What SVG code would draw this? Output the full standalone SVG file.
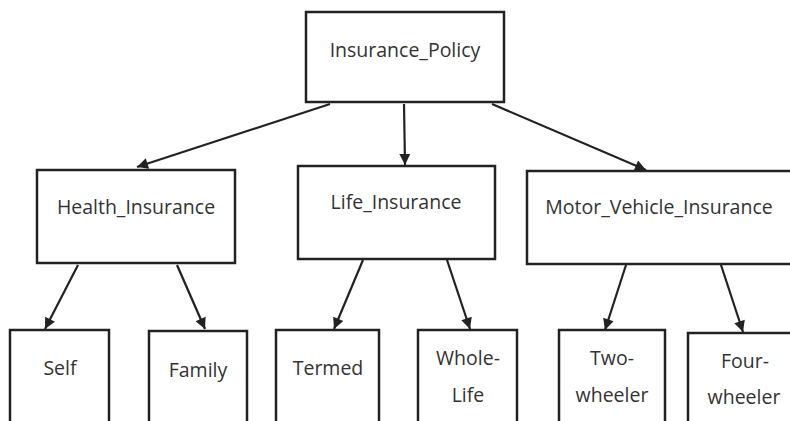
<svg xmlns="http://www.w3.org/2000/svg" width="790" height="421" viewBox="0 0 790 421">
  <style>
    .box { fill: #ffffff; stroke: #222222; stroke-width: 2.5; }
    .lbl { font-family: "Open Sans", "Noto Sans", sans-serif; font-size: 19.5px; fill: #333333; text-anchor: middle; }
    .edge { stroke: #222222; stroke-width: 2.2; fill: none; marker-end: url(#arrow); }
  </style>
  <defs>
    <marker id="arrow" viewBox="0 0 10 10" refX="10" refY="5" markerWidth="13" markerHeight="11" markerUnits="userSpaceOnUse" orient="auto">
      <path d="M0,0 L10,5 L0,10 Z" fill="#222222"/>
    </marker>
  </defs>
  <rect width="790" height="421" fill="#ffffff"/>

  <g id="connectors">
    <line class="edge" x1="330" y1="104" x2="137" y2="167"/>
    <line class="edge" x1="404" y1="104" x2="405" y2="165"/>
    <line class="edge" x1="492" y1="104" x2="646" y2="170"/>
    <line class="edge" x1="78" y1="265" x2="45" y2="329"/>
    <line class="edge" x1="177" y1="265" x2="205" y2="329"/>
    <line class="edge" x1="363" y1="260" x2="334" y2="329"/>
    <line class="edge" x1="447" y1="260" x2="470" y2="329"/>
    <line class="edge" x1="626" y1="265" x2="605" y2="330"/>
    <line class="edge" x1="721" y1="265" x2="743" y2="332"/>
  </g>

  <g id="insurance-policy">
    <rect class="box" x="306" y="12" width="198" height="90"/>
    <text class="lbl" x="405" y="57">Insurance_Policy</text>
  </g>
  <g id="health-insurance">
    <rect class="box" x="37" y="170" width="198" height="93"/>
    <text class="lbl" x="136" y="214">Health_Insurance</text>
  </g>
  <g id="life-insurance">
    <rect class="box" x="298" y="166" width="197" height="93"/>
    <text class="lbl" x="396" y="209">Life_Insurance</text>
  </g>
  <g id="motor-vehicle-insurance">
    <rect class="box" x="527" y="171" width="270" height="93"/>
    <text class="lbl" x="659" y="214">Motor_Vehicle_Insurance</text>
  </g>
  <g id="self">
    <rect class="box" x="10" y="330" width="99" height="100"/>
    <text class="lbl" x="60" y="375">Self</text>
  </g>
  <g id="family">
    <rect class="box" x="149" y="331" width="98" height="100"/>
    <text class="lbl" x="198" y="377">Family</text>
  </g>
  <g id="termed">
    <rect class="box" x="276" y="330" width="103" height="100"/>
    <text class="lbl" x="328" y="375">Termed</text>
  </g>
  <g id="whole-life">
    <rect class="box" x="418" y="330" width="99" height="100"/>
    <text class="lbl" x="468" y="365">Whole-</text>
    <text class="lbl" x="468" y="402">Life</text>
  </g>
  <g id="two-wheeler">
    <rect class="box" x="559" y="330" width="106" height="100"/>
    <text class="lbl" x="612" y="365">Two-</text>
    <text class="lbl" x="612" y="402">wheeler</text>
  </g>
  <g id="four-wheeler">
    <rect class="box" x="688" y="333" width="110" height="100"/>
    <text class="lbl" x="745" y="368">Four-</text>
    <text class="lbl" x="744" y="404">wheeler</text>
  </g>
</svg>
